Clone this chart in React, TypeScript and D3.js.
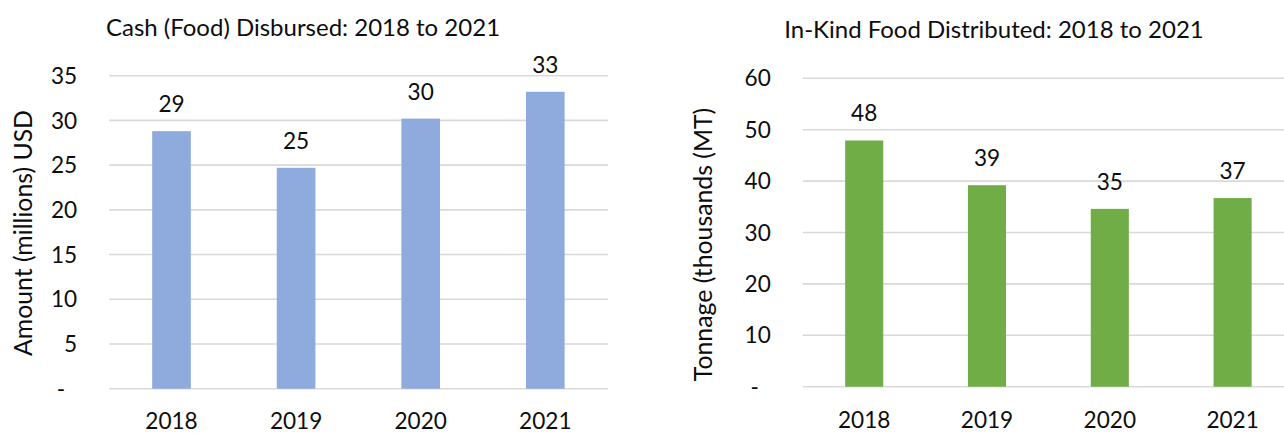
import React from "react";
import * as d3 from "d3";

// Categories and series
const years = ["2018", "2019", "2020", "2021"];
const cashMillionsUsd = [28.8, 24.7, 30.2, 33.2];
const inKindThousandMt = [47.9, 39.2, 34.6, 36.7];

// Y-axis tick values
const cashTicks = [0, 5, 10, 15, 20, 25, 30, 35];
const inKindTicks = [0, 10, 20, 30, 40, 50, 60];

// Text
const cashTitle = "Cash (Food) Disbursed: 2018 to 2021";
const inKindTitle = "In-Kind Food Distributed: 2018 to 2021";
const cashAxisTitle = "Amount (millions) USD";
const inKindAxisTitle = "Tonnage (thousands (MT)";

const WIDTH = 1284;
const HEIGHT = 433;
const FONT = "Lato, 'Open Sans', sans-serif";
const TEXT = "#0d0d0d";
const GRID = "#d9d9d9";
const GAP = 0.69; // share of each category slot left empty around its bar

type Frame = {
  left: number;
  right: number;
  gridRight: number;
  top: number;
  bottom: number;
  titleX: number;
  titleY: number;
  axisX: number;
  axisY: number;
};

type PanelProps = {
  frame: Frame;
  title: string;
  axisTitle: string;
  values: number[];
  ticks: number[];
  color: string;
};

function Panel({ frame, title, axisTitle, values, ticks, color }: PanelProps) {
  const x = d3
    .scaleBand<string>()
    .domain(years)
    .range([frame.left, frame.right])
    .paddingInner(GAP)
    .paddingOuter(GAP / 2);
  const y = d3
    .scaleLinear()
    .domain([0, d3.max(ticks) as number])
    .range([frame.bottom, frame.top]);

  const tickText = (v: number) => (v === 0 ? "-" : d3.format("d")(v));
  const valueText = d3.format(".0f");
  const bw = x.bandwidth();

  return (
    <g fontFamily={FONT} fill={TEXT}>
      <text x={frame.titleX} y={frame.titleY} textAnchor="middle" fontSize={24}>
        {title}
      </text>
      <text
        transform={`translate(${frame.axisX},${frame.axisY}) rotate(-90)`}
        textAnchor="middle"
        fontSize={24.8}
      >
        {axisTitle}
      </text>

      {ticks.map((t) => (
        <line
          key={`g${t}`}
          x1={frame.left}
          x2={frame.gridRight}
          y1={y(t)}
          y2={y(t)}
          stroke={GRID}
          strokeWidth={1.6}
        />
      ))}
      {ticks.map((t) => (
        <text
          key={`t${t}`}
          x={frame.left - 32 - (t === 0 ? 12 : 0)}
          y={y(t)}
          dy="0.36em"
          textAnchor="end"
          fontSize={22.6}
        >
          {tickText(t)}
        </text>
      ))}

      {years.map((yr, i) => (
        <rect
          key={`b${yr}`}
          x={x(yr)}
          y={y(values[i])}
          width={bw}
          height={y(0) - y(values[i])}
          fill={color}
        />
      ))}
      {years.map((yr, i) => (
        <text
          key={`v${yr}`}
          x={(x(yr) as number) + bw / 2}
          y={y(values[i]) - 19}
          textAnchor="middle"
          fontSize={22.6}
        >
          {valueText(values[i])}
        </text>
      ))}
      {years.map((yr) => (
        <text
          key={`x${yr}`}
          x={(x(yr) as number) + bw / 2}
          y={frame.labelBaseline}
          textAnchor="middle"
          fontSize={22.6}
        >
          {yr}
        </text>
      ))}
    </g>
  );
}

const cashFrame = {
  left: 109.2,
  right: 607.6,
  gridRight: 608,
  top: 75.7,
  bottom: 388.7,
  titleX: 303,
  titleY: 36,
  axisX: 32,
  axisY: 233,
  labelBaseline: 429,
};

const inKindFrame = {
  left: 802.8,
  right: 1294,
  gridRight: 1284,
  top: 78.3,
  bottom: 386.7,
  titleX: 994,
  titleY: 37.5,
  axisX: 712,
  axisY: 244.5,
  labelBaseline: 427.5,
};

export default function App() {
  return (
    <svg
      width={WIDTH}
      height={HEIGHT}
      viewBox={`0 0 ${WIDTH} ${HEIGHT}`}
      style={{ position: "absolute", left: 0, top: 0, background: "#fff" }}
    >
      <rect width={WIDTH} height={HEIGHT} fill="#fff" />
      <Panel
        frame={cashFrame}
        title={cashTitle}
        axisTitle={cashAxisTitle}
        values={cashMillionsUsd}
        ticks={cashTicks}
        color="#8faadc"
      />
      <Panel
        frame={inKindFrame}
        title={inKindTitle}
        axisTitle={inKindAxisTitle}
        values={inKindThousandMt}
        ticks={inKindTicks}
        color="#70ad47"
      />
    </svg>
  );
}
